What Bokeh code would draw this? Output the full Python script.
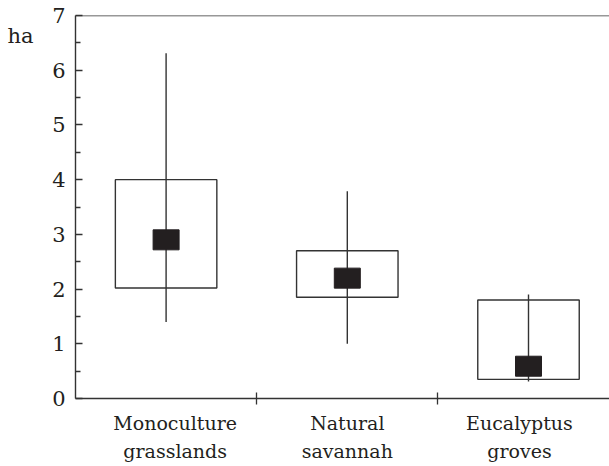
from bokeh.plotting import figure
from bokeh.models import (Range1d, FixedTicker, LinearAxis, Span, ColumnDataSource)
from bokeh.embed import file_html
from bokeh.resources import INLINE

# ---- data ----
categories = ["Monoculture\ngrasslands", "Natural\nsavannah", "Eucalyptus\ngroves"]
whisker_low = [1.40, 1.00, 0.31]
whisker_high = [6.31, 3.79, 1.90]
box_low = [2.02, 1.85, 0.35]
box_high = [4.00, 2.70, 1.80]
center_val = [2.90, 2.20, 0.59]
y_ticks = [0, 1, 2, 3, 4, 5, 6, 7]
unit_label = "ha"

# ---- styling ----
INK = "#231f20"
LINE = "#333333"
FONT = "DejaVu Serif"
box_half = 0.28
label_shift = [0.05, 0.0, -0.05]
unit_label_y = 6.62

xs = [i + 0.5 for i in range(len(categories))]
src = ColumnDataSource(dict(
    x=xs,
    left=[x - box_half for x in xs],
    right=[x + box_half for x in xs],
    wlo=whisker_low, whi=whisker_high,
    blo=box_low, bhi=box_high, mid=center_val,
))

p = figure(width=609, height=466, output_backend="svg", toolbar_location=None,
           x_range=Range1d(0, 2.947), y_range=Range1d(0, 7),
           x_axis_location=None, y_axis_location=None,
           min_border_left=75, min_border_right=0, min_border_top=15,
           min_border_bottom=68)
p.outline_line_color = None
p.xgrid.visible = False
p.ygrid.visible = False
p.background_fill_color = "white"

# boxes, whiskers, centre markers
p.quad(left="left", right="right", bottom="blo", top="bhi", source=src,
       fill_color=None, line_color=LINE, line_width=1.4)
p.segment(x0="x", y0="wlo", x1="x", y1="whi", source=src,
          line_color=LINE, line_width=1.4)
p.rect(x="x", y="mid", width=26, height=20, width_units="screen",
       height_units="screen", source=src, fill_color=INK, line_color=INK)

# y axis
yax = LinearAxis(ticker=FixedTicker(ticks=y_ticks,
                                    minor_ticks=[t + 0.5 for t in y_ticks[:-1]]))
yax.axis_line_color = LINE
yax.axis_line_width = 1.4
yax.major_tick_in = 7
yax.major_tick_out = 0
yax.minor_tick_in = 5
yax.minor_tick_out = 0
yax.major_tick_line_color = LINE
yax.minor_tick_line_color = LINE
yax.major_tick_line_width = 1.3
yax.minor_tick_line_width = 1.3
yax.major_label_text_font = FONT
yax.major_label_text_font_size = "21px"
yax.major_label_text_color = INK
yax.major_label_standoff = 10
p.add_layout(yax, "left")

# unit label as an outer, line-less axis
uax = LinearAxis(ticker=FixedTicker(ticks=[unit_label_y], minor_ticks=[]))
uax.major_label_overrides = {unit_label_y: unit_label}
uax.axis_line_color = None
uax.major_tick_line_color = None
uax.minor_tick_line_color = None
uax.major_tick_in = 0
uax.major_tick_out = 0
uax.minor_tick_in = 0
uax.minor_tick_out = 0
uax.major_label_text_font = FONT
uax.major_label_text_font_size = "21px"
uax.major_label_text_color = INK
uax.major_label_standoff = 16
p.add_layout(uax, "left")

# x axis
label_pos = [x + d for x, d in zip(xs, label_shift)]
xax = LinearAxis(ticker=FixedTicker(ticks=label_pos,
                                    minor_ticks=list(range(1, len(categories)))))
xax.major_label_overrides = {pos: c for pos, c in zip(label_pos, categories)}
xax.axis_line_color = LINE
xax.axis_line_width = 1.4
xax.major_tick_in = 0
xax.major_tick_out = 0
xax.minor_tick_in = 6
xax.minor_tick_out = 6
xax.minor_tick_line_color = LINE
xax.minor_tick_line_width = 1.3
xax.major_label_text_font = FONT
xax.major_label_text_font_size = "19px"
xax.major_label_text_color = INK
xax.major_label_text_line_height = 1.3
xax.major_label_standoff = 7
p.add_layout(xax, "below")

# top border line
p.add_layout(Span(location=7, dimension="width", line_color=LINE, line_width=1.4))

open("out.html", "w").write(file_html(p, INLINE))
